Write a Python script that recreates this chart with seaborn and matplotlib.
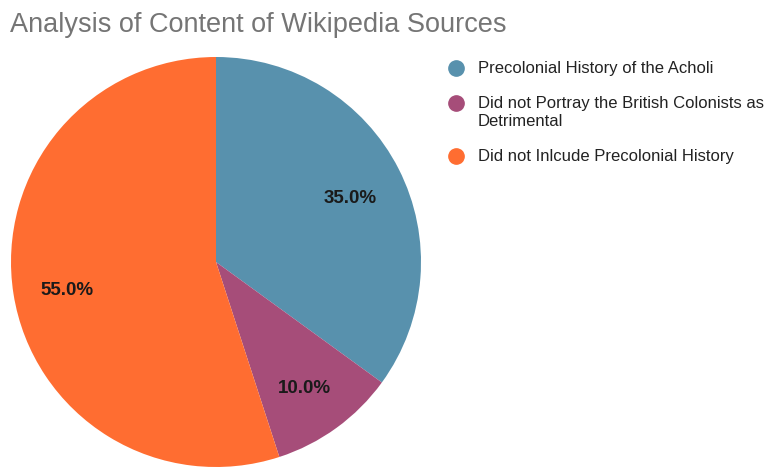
import matplotlib
matplotlib.use("Agg")
import matplotlib.pyplot as plt
from matplotlib.lines import Line2D
from matplotlib.transforms import ScaledTranslation
import seaborn as sns

categories = ["Precolonial History of the Acholi",
              "Did not Portray the British Colonists as\nDetrimental",
              "Did not Inlcude Precolonial History"]
values = [35.0, 10.0, 55.0]
colors = ["#5891ad", "#a64d79", "#ff6d31"]
title = "Analysis of Content of Wikipedia Sources"

sns.set_theme(style="white")
plt.rcParams['font.family'] = ['Liberation Sans', 'DejaVu Sans']

W, H = 765, 468
fig = plt.figure(figsize=(W / 100, H / 100), dpi=100)
fig.patch.set_facecolor("white")

cx, cy, r = 216, 262, 205
ax = fig.add_axes([(cx - r) / W, (H - cy - r) / H, 2 * r / W, 2 * r / H])
pal = sns.color_palette(colors)
wedges, texts, autotexts = ax.pie(
    values, colors=pal, startangle=90, counterclock=False,
    autopct="%1.1f%%", pctdistance=0.735, radius=1.0,
    wedgeprops=dict(linewidth=0),
    textprops=dict(fontsize=13.5, fontweight="bold", color="#1a1a1a"))
for t in autotexts:
    t.set_transform(t.get_transform() + ScaledTranslation(0, -5 / 100, fig.dpi_scale_trans))
ax.set_xlim(-1, 1)
ax.set_ylim(-1, 1)
ax.set_aspect("equal")
ax.axis("off")

fig.text(10 / W, 1 - 25 / H, title, fontsize=19.5, color="#757575",
         va="center", ha="left")

# legend drawn manually: marker aligned with first line of each label
lx_marker, lx_text = 456, 478
y = 68
line_h, gap = 18, 17
for lab, c in zip(categories, pal):
    fig.add_artist(Line2D([lx_marker / W], [1 - y / H], marker="o", linestyle="none",
                          markersize=11, markerfacecolor=c, markeredgecolor=c,
                          transform=fig.transFigure))
    fig.text(lx_text / W, 1 - (y - 7) / H, lab, fontsize=12, color="#222222",
             ha="left", va="top", linespacing=1.28)
    n = lab.count("\n") + 1
    y += n * line_h + gap

fig.savefig("out.png", dpi=100, facecolor="white")
